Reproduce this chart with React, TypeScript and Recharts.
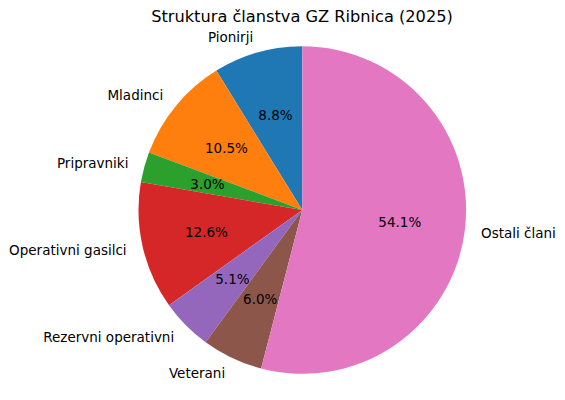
import { PieChart, Pie, Cell } from 'recharts';

document.body.style.margin = '0';

const groups = [
  'Pionirji',
  'Mladinci',
  'Pripravniki',
  'Operativni gasilci',
  'Rezervni operativni',
  'Veterani',
  'Ostali člani',
];
const shares = [8.8, 10.5, 3.0, 12.6, 5.1, 6.0, 54.1];

const COLORS = [
  '#1f77b4',
  '#ff7f0e',
  '#2ca02c',
  '#d62728',
  '#9467bd',
  '#8c564b',
  '#e377c2',
];

const data = groups.map((name, i) => ({ name, value: shares[i] }));

const FONT = '"DejaVu Sans", sans-serif';
const RAD = Math.PI / 180;

const renderLabel = (props: any) => {
  const { cx, cy, midAngle, outerRadius, name, value } = props;
  const c = Math.cos(midAngle * RAD);
  const s = Math.sin(midAngle * RAD);
  const inR = outerRadius * 0.6;
  const outR = outerRadius * 1.1;
  return (
    <g>
      <text
        x={cx + inR * c}
        y={cy - inR * s}
        textAnchor="middle"
        dominantBaseline="central"
        fill="#000"
        fontSize={13.5}
        fontFamily={FONT}
      >
        {`${value.toFixed(1)}%`}
      </text>
      <text
        x={cx + outR * c}
        y={cy - outR * s}
        textAnchor={c >= 0 ? 'start' : 'end'}
        dominantBaseline="central"
        fill="#000"
        fontSize={13.5}
        fontFamily={FONT}
      >
        {name}
      </text>
    </g>
  );
};

const App = () => {
  return (
    <div style={{ position: 'relative', width: 565, height: 400, background: '#fff' }}>
      <div
        style={{
          position: 'absolute',
          top: 7,
          left: 0,
          width: 604,
          textAlign: 'center',
          fontFamily: FONT,
          fontSize: 16.2,
          color: '#000',
        }}
      >
        Struktura članstva GZ Ribnica (2025)
      </div>
      <PieChart width={565} height={400} margin={{ top: 0, right: 0, bottom: 0, left: 0 }}>
        <Pie
          data={data}
          dataKey="value"
          nameKey="name"
          cx={302.3}
          cy={210}
          outerRadius={163.8}
          startAngle={90}
          endAngle={450}
          stroke="none"
          label={renderLabel}
          labelLine={false}
          isAnimationActive={false}
        >
          {data.map((d, i) => (
            <Cell key={d.name} fill={COLORS[i]} />
          ))}
        </Pie>
      </PieChart>
    </div>
  );
};

export default App;
